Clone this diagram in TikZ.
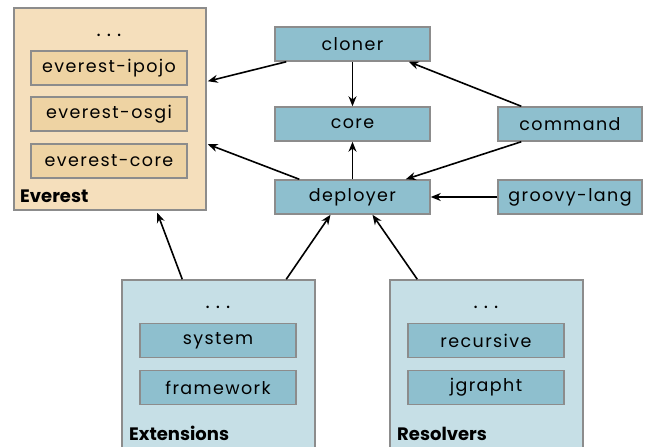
\documentclass[tikz,border=0pt]{standalone}
\usepackage{fontspec}
\setmainfont{Poppins}[LetterSpace=8]
\newfontfamily\labfont{Poppins}[LetterSpace=0]
\usetikzlibrary{arrows.meta,positioning,calc}
\definecolor{bnode}{HTML}{8EBFCE}
\definecolor{bgroup}{HTML}{C6DFE6}
\definecolor{ogroup}{HTML}{F5DFBC}
\definecolor{onode}{HTML}{EED3A3}
\definecolor{bord}{HTML}{8C8C8C}
\tikzset{
  mod/.style={draw=bord,line width=1.5pt,fill=bnode,minimum width=155pt,minimum height=34pt,inner sep=0pt,font=\fontsize{17.5}{20}\selectfont},
  omod/.style={mod,fill=onode},
  grp/.style={draw=bord,line width=1.5pt},
  dots/.style={anchor=base,inner sep=0pt,font=\fontsize{20}{20}\selectfont},
  glab/.style={anchor=base west,font=\labfont\bfseries\fontsize{18}{19}\selectfont,inner sep=0pt},
  dep/.style={-{Stealth[length=10pt,width=8pt]},line width=1.6pt,black},
}
\newcommand{\threedots}{.\hspace{6pt}.\hspace{6pt}.}
\begin{document}
\begin{tikzpicture}[x=1pt,y=-1pt]
\useasboundingbox (0,0) rectangle (646,447);
% groups
\node[grp,fill=ogroup,minimum width=192pt,minimum height=202pt,inner sep=0pt] (everest) at (110,109) {};
\node[grp,fill=bgroup,minimum width=193pt,minimum height=172pt,inner sep=0pt] (ext) at (218.5,366) {};
\node[grp,fill=bgroup,minimum width=193pt,minimum height=172pt,inner sep=0pt] (res) at (486.5,366) {};
% everest inner
\node[dots] (edots) at (109,36) {\threedots};
\node[omod,minimum width=156pt] (ipojo) at (109,68) {everest-ipojo};
\node[omod,minimum width=156pt] (osgi) at (109,114) {everest-osgi};
\node[omod,minimum width=156pt] (ecore) at (109,161) {everest-core};
\node[glab] (elab) at (20,202) {Everest};
% extensions inner
\node[dots] (xdots) at (218,308) {\threedots};
\node[mod,minimum width=156pt] (system) at (218,340.5) {system};
\node[mod,minimum width=156pt] (framework) at (218,387.5) {framework};
\node[glab] (xlab) at (129,440) {Extensions};
% resolvers inner
\node[dots] (rdots) at (486,308) {\threedots};
\node[mod,minimum width=156pt] (recursive) at (486,340.5) {recursive};
\node[mod,minimum width=156pt] (jgrapht) at (486,387.5) {jgrapht};
\node[glab] (rlab) at (397,440) {Resolvers};
% main modules
\node[mod] (cloner) at (352.5,44) {cloner};
\node[mod] (core) at (352.5,124) {core};
\node[mod] (deployer) at (352.5,197) {deployer};
\node[mod,minimum width=144pt] (command) at (570,124) {command};
\node[mod,minimum width=144pt] (groovy) at (570,197) {groovy-lang};
% arrows
\draw[dep] ($(cloner.south west)+(12,0)$) -- ($(everest.north east)+(1,74)$);
\draw[dep] (cloner.south) -- (core.north);
\draw[dep] ($(command.north west)+(24,0)$) -- ($(cloner.south east)+(-22,0)$);
\draw[dep] ($(command.south west)+(24,0)$) -- ($(deployer.north east)+(-25,0)$);
\draw[dep] (deployer.north) -- (core.south);
\draw[dep] ($(deployer.north west)+(25,0)$) -- ($(everest.north east)+(1,137)$);
\draw[dep] (groovy.west) -- (deployer.east);
\draw[dep] ($(ext.north west)+(61,0)$) -- ($(everest.south west)+(144,2)$);
\draw[dep] ($(ext.north west)+(165,0)$) -- ($(deployer.south)+(-22,0)$);
\draw[dep] ($(res.north west)+(28,0)$) -- ($(deployer.south)+(20,0)$);
\end{tikzpicture}
\end{document}
